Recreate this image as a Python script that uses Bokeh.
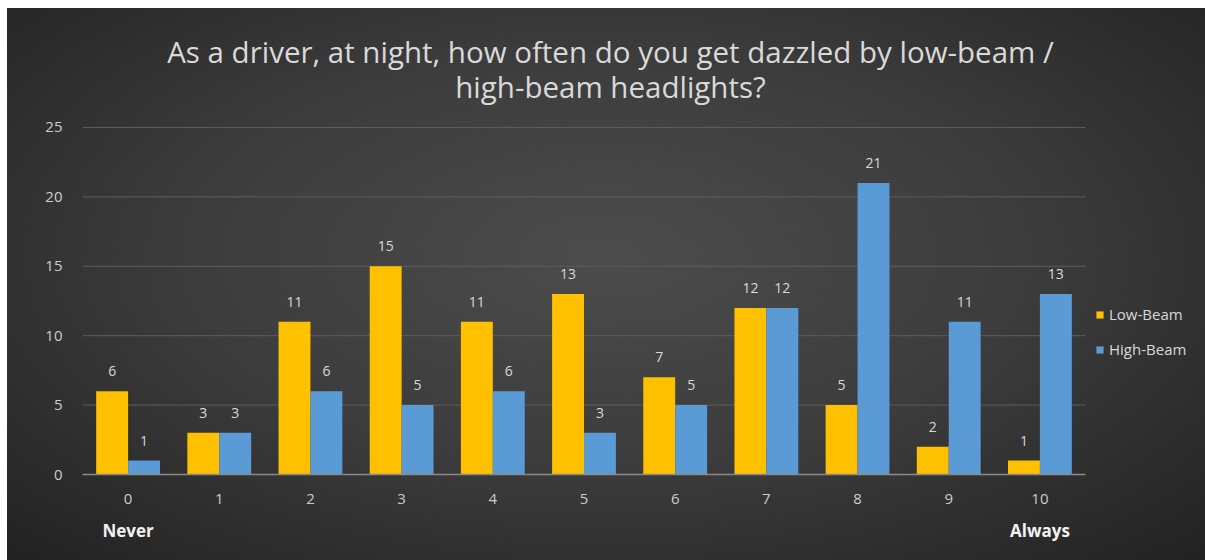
from bokeh.plotting import figure
from bokeh.models import (ColumnDataSource, LabelSet, Label, Legend, LegendItem, LinearAxis,
                          FixedTicker, Range1d)
from bokeh.core.properties import value
from bokeh.embed import file_html
from bokeh.resources import INLINE

categories = ["0", "1", "2", "3", "4", "5", "6", "7", "8", "9", "10"]
low_beam = [6, 3, 11, 15, 11, 13, 7, 12, 5, 2, 1]
high_beam = [1, 3, 6, 5, 6, 3, 5, 12, 21, 11, 13]
y_ticks = [0, 5, 10, 15, 20, 25]
title_lines = ["As a driver, at night, how often do you get dazzled by low-beam /",
               "high-beam headlights?"]
end_labels = {"0": "Never", "10": "Always"}

FONT = "Open Sans"
TXT = "#d9d9d9"
BW = 0.35  # bar width in category units

pos = list(range(len(categories)))
first, last = -0.5, len(categories) - 0.5
src = ColumnDataSource(dict(pos=pos, x_low=[i - BW / 2 for i in pos], x_high=[i + BW / 2 for i in pos],
                            low=low_beam, high=high_beam,
                            low_s=[str(v) for v in low_beam], high_s=[str(v) for v in high_beam]))

# frame reaches the canvas top and right edge so the title and legend can sit inside it
p = figure(x_range=Range1d(first, 11.816), y_range=Range1d(0, 33.57),
           width=1198, height=552, output_backend="svg", toolbar_location=None,
           min_border_left=75, min_border_right=0, min_border_top=0, min_border_bottom=86)
p.margin = (8, 0, 0, 7)
p.styles = {"background-image": "radial-gradient(ellipse 70% 75% at 50% 45%, #4c4c4c 0%, #3c3c3c 50%, #232323 100%)"}
p.background_fill_alpha = 0
p.border_fill_alpha = 0
p.outline_line_color = None
p.xaxis.visible = False
p.yaxis.visible = False
p.xgrid.visible = False
p.ygrid.visible = False

# horizontal gridlines over the category span only
p.segment(x0=[first] * len(y_ticks), x1=[last] * len(y_ticks), y0=y_ticks, y1=y_ticks,
          line_color="#5e5e5e", line_width=1)

r_low = p.vbar(x="x_low", top="low", width=BW, source=src, fill_color="#FFC000", line_color=None)
r_high = p.vbar(x="x_high", top="high", width=BW, source=src, fill_color="#5B9BD5", line_color=None)

for xcol, ycol, tcol in (("x_low", "low", "low_s"), ("x_high", "high", "high_s")):
    p.add_layout(LabelSet(x=xcol, y=ycol, text=tcol, source=src, text_align="center",
                          text_baseline="alphabetic", y_offset=15, text_color=TXT,
                          text_font=value(FONT), text_font_size="14px"))

yax = LinearAxis(ticker=FixedTicker(ticks=y_ticks), axis_line_color=None,
                 major_tick_line_color=None, minor_tick_line_color=None,
                 major_label_text_color="#cccccc", major_label_text_font=FONT,
                 major_label_text_font_size="15px", major_label_standoff=14)
p.add_layout(yax, "left")

xax = LinearAxis(ticker=FixedTicker(ticks=pos), bounds=(first, last),
                 major_label_overrides={i: c for i, c in zip(pos, categories)},
                 axis_line_color="#8a8a8a", axis_line_width=1.5,
                 major_tick_line_color=None, minor_tick_line_color=None,
                 major_label_text_color="#cccccc", major_label_text_font=FONT,
                 major_label_text_font_size="15px", major_label_standoff=13)
p.add_layout(xax, "below")

end_pos = [categories.index(c) for c in end_labels]
ax2 = LinearAxis(ticker=FixedTicker(ticks=end_pos),
                 major_label_overrides={categories.index(c): t for c, t in end_labels.items()},
                 axis_line_color=None, major_tick_line_color=None, minor_tick_line_color=None,
                 major_label_text_color="#f2f2f2", major_label_text_font=FONT,
                 major_label_text_font_size="17px", major_label_text_font_style="bold",
                 major_label_standoff=6)
p.add_layout(ax2, "below")

for i, line in enumerate(title_lines):
    p.add_layout(Label(x=528, y=423 - 35 * i, x_units="screen", y_units="screen", text=line,
                       text_align="center", text_baseline="alphabetic", text_color=TXT,
                       text_font=FONT, text_font_size="29.5px"))

legend = Legend(items=[LegendItem(label="Low-Beam", renderers=[r_low]),
                       LegendItem(label="High-Beam", renderers=[r_high])],
                location=(1013, 115), orientation="vertical",
                background_fill_alpha=0, border_line_color=None,
                glyph_width=9, glyph_height=9, label_height=15, spacing=15,
                label_text_color=TXT, label_text_font=FONT, label_text_font_size="15px",
                label_standoff=5, padding=0, margin=0)
p.add_layout(legend, "center")

open("out.html", "w").write(file_html(p, INLINE))
